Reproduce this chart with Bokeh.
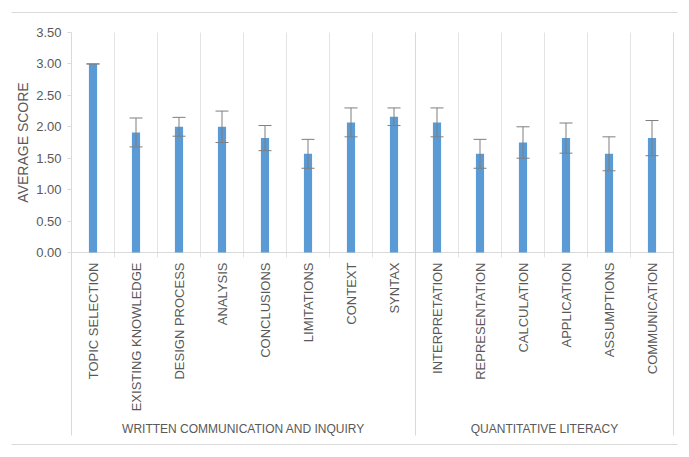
import math
from bokeh.plotting import figure
from bokeh.models import Range1d, FixedTicker, NumeralTickFormatter
from bokeh.core.properties import value
from bokeh.embed import file_html
from bokeh.resources import INLINE

# ---- data ----
groups = ["WRITTEN COMMUNICATION AND INQUIRY", "QUANTITATIVE LITERACY"]
group_sizes = [8, 6]
categories = ["TOPIC SELECTION", "EXISTING KNOWLEDGE", "DESIGN PROCESS", "ANALYSIS",
              "CONCLUSIONS", "LIMITATIONS", "CONTEXT", "SYNTAX",
              "INTERPRETATION", "REPRESENTATION", "CALCULATION", "APPLICATION",
              "ASSUMPTIONS", "COMMUNICATION"]
scores = [3.00, 1.91, 2.00, 2.00, 1.82, 1.57, 2.07, 2.16,
          2.07, 1.57, 1.75, 1.82, 1.57, 1.82]
errors = [0.00, 0.23, 0.15, 0.25, 0.20, 0.23, 0.23, 0.14,
          0.23, 0.23, 0.25, 0.24, 0.27, 0.28]
y_ticks = [0.0, 0.5, 1.0, 1.5, 2.0, 2.5, 3.0, 3.5]
y_label = "AVERAGE SCORE"

# ---- styling ----
FONT = "Liberation Sans"
TXT = "#595959"
LINE = "#d9d9d9"
GRID = "#e3e3e3"
BAR = "#5b9bd5"
ERR = "#7f7f7f"

n = len(categories)
YMAX = y_ticks[-1]
PX_X = 43.0            # pixels per category
PX_Y = 220.0 / YMAX    # pixels per score unit
dx = 1.0 / PX_X
dy = 1.0 / PX_Y

xs = [i + 0.5 for i in range(n)]
upper = [s + e for s, e in zip(scores, errors)]
lower = [s - e for s, e in zip(scores, errors)]

# frame covers the whole chart box
p = figure(width=681, height=449, output_backend="svg", toolbar_location=None,
           x_range=Range1d(-61 * dx, n + 5 * dx),
           y_range=Range1d(-193 * dy, YMAX + 21 * dy),
           min_border_left=10, min_border_right=3, min_border_top=11,
           min_border_bottom=4)
p.outline_line_color = None
p.background_fill_color = "white"
p.border_fill_color = "white"
p.grid.visible = False

# outer rules (top / bottom)
p.segment(x0=[-60 * dx] * 2, x1=[n + 4 * dx] * 2, y0=[YMAX + 20 * dy, -192 * dy],
          y1=[YMAX + 20 * dy, -192 * dy], line_color=LINE, line_width=1)

# category gridlines (with stubs below the zero line)
inner = [b for b in range(1, n)]
p.segment(x0=inner, x1=inner, y0=[-5 * dy] * len(inner), y1=[YMAX] * len(inner),
          line_color=GRID, line_width=1)

# group separators (full height)
bounds = [0]
for s in group_sizes:
    bounds.append(bounds[-1] + s)
p.segment(x0=bounds, x1=bounds, y0=[-183 * dy] * len(bounds), y1=[YMAX] * len(bounds),
          line_color=LINE, line_width=1)

# zero line
p.segment(x0=[0], x1=[n], y0=[0], y1=[0], line_color=LINE, line_width=1)

# bars
p.vbar(x=xs, top=scores, bottom=0, width=0.19, fill_color=BAR, line_color=None)

# error bars
cap = 6.5 * dx
p.segment(x0=xs, y0=lower, x1=xs, y1=upper, line_color=ERR, line_width=1)
p.segment(x0=[x - cap for x in xs], y0=upper, x1=[x + cap for x in xs], y1=upper,
          line_color=ERR, line_width=1)
p.segment(x0=[x - cap for x in xs], y0=lower, x1=[x + cap for x in xs], y1=lower,
          line_color=ERR, line_width=1)

# x axis drawn at the stub ends
xa = p.xaxis[0]
xa.fixed_location = -5 * dy
xa.ticker = FixedTicker(ticks=xs)
xa.major_label_overrides = {x: c for x, c in zip(xs, categories)}
xa.major_label_orientation = math.pi / 2
xa.major_tick_out = 0
xa.major_tick_in = 0
xa.minor_tick_line_color = None
xa.axis_line_color = None
xa.major_label_standoff = 5
xa.major_label_text_font = FONT
xa.major_label_text_font_size = "13px"
xa.major_label_text_color = TXT

# y axis drawn at the left edge of the bars area
ya = p.yaxis[0]
ya.fixed_location = 0
ya.ticker = FixedTicker(ticks=y_ticks)
ya.formatter = NumeralTickFormatter(format="0.00")
ya.axis_line_color = None
ya.major_tick_line_color = LINE
ya.major_tick_out = 4
ya.major_tick_in = 0
ya.minor_tick_line_color = None
ya.major_label_text_font = FONT
ya.major_label_text_font_size = "13px"
ya.major_label_text_color = TXT
ya.major_label_standoff = 6

# y axis title
p.text(x=[-49 * dx], y=[YMAX / 2], text=[y_label], angle=math.pi / 2,
       text_align="center", text_baseline="middle",
       text_font=value(FONT), text_font_size="14px", text_color=TXT)

# group labels
centers = [(a + b) / 2 for a, b in zip(bounds[:-1], bounds[1:])]
p.text(x=centers, y=[-176 * dy] * len(centers), text=groups,
       text_align="center", text_baseline="middle",
       text_font=value(FONT), text_font_size="12px", text_color=TXT)

open("out.html", "w").write(file_html(p, INLINE))
